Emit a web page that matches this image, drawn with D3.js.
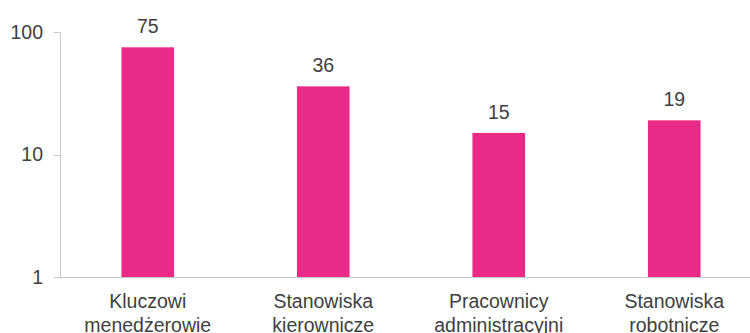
<!DOCTYPE html>
<html><head><meta charset="utf-8">
<script src="https://cdn.jsdelivr.net/npm/d3@7"></script>
<style>body{margin:0;background:#fff}svg{display:block}</style>
</head><body>
<svg id="c" width="750" height="333"></svg>
<script>
const categories = [["Kluczowi","menedżerowie"],["Stanowiska","kierownicze"],["Pracownicy","administracyjni"],["Stanowiska","robotnicze"]];
const values = [75, 36, 15, 19];
const yTicks = [1, 10, 100];

const svg = d3.select("#c");
const mLeft = 60, mRight = 762, mTop = 32, mBottom = 277;
const x = d3.scaleBand().domain(d3.range(values.length)).range([mLeft, mRight]).paddingInner(0.7).paddingOuter(0.35);
const y = d3.scaleLog().domain([1, 100]).range([mBottom, mTop]);
const font = "Liberation Sans, Arial, sans-serif";
const txt = "#404040";
const axc = "#c8c8c8";
const fs = 19.5;

// y axis
svg.append("line").attr("x1", mLeft + 0.5).attr("x2", mLeft + 0.5).attr("y1", y(100)).attr("y2", mBottom).attr("stroke", axc);
svg.selectAll(".yt").data(yTicks).join("line").attr("class", "yt")
  .attr("x1", mLeft - 6).attr("x2", mLeft).attr("y1", d => Math.round(y(d)) + 0.5).attr("y2", d => Math.round(y(d)) + 0.5).attr("stroke", axc);
svg.selectAll(".yl").data(yTicks).join("text").attr("class", "yl")
  .attr("x", mLeft - 17).attr("y", d => y(d)).attr("dy", "0.35em").attr("text-anchor", "end")
  .attr("font-family", font).attr("font-size", fs).attr("fill", txt).text(d => d);

// bars
svg.selectAll(".bar").data(values).join("rect").attr("class", "bar")
  .attr("x", (d, i) => x(i)).attr("width", x.bandwidth())
  .attr("y", d => y(d)).attr("height", d => mBottom - y(d)).attr("fill", "#EA2A87");

// x axis
svg.append("line").attr("x1", mLeft - 6).attr("x2", 750).attr("y1", mBottom + 0.5).attr("y2", mBottom + 0.5).attr("stroke", axc);

// value labels
svg.selectAll(".vl").data(values).join("text").attr("class", "vl")
  .attr("x", (d, i) => x(i) + x.bandwidth() / 2).attr("y", d => y(d) - 14)
  .attr("text-anchor", "middle").attr("font-family", font).attr("font-size", fs).attr("fill", txt).text(d => d);

// category labels
const cl = svg.selectAll(".cl").data(categories).join("text").attr("class", "cl")
  .attr("text-anchor", "middle").attr("font-family", font).attr("font-size", fs).attr("fill", txt);
cl.selectAll("tspan").data((d, i) => d.map(t => ({t, i}))).join("tspan")
  .attr("x", d => x(d.i) + x.bandwidth() / 2)
  .attr("y", (d, j) => 308 + j * 24)
  .text(d => d.t);
</script>
</body></html>
